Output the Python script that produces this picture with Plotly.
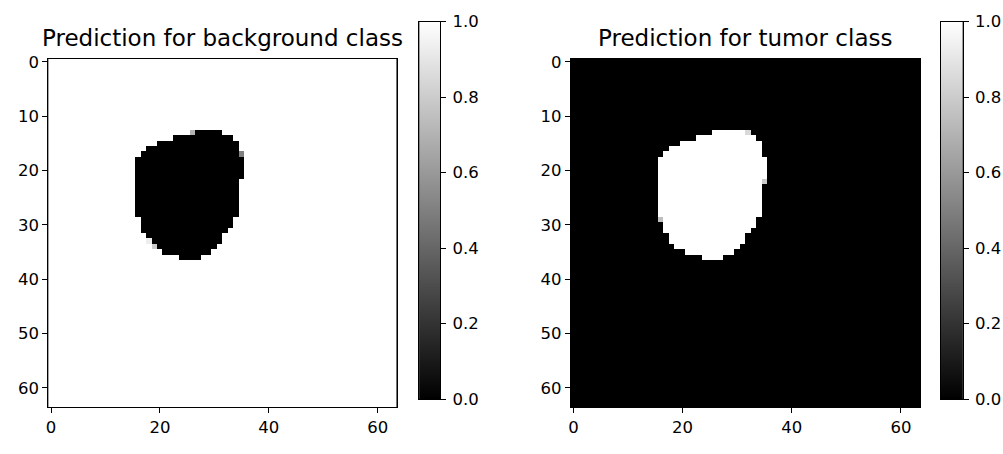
import numpy as np
import plotly.graph_objects as go

# ---- data ----
N = 64
first_row = 13
# column extent of the predicted tumour region, one entry per row starting at first_row
row_col_start = [26, 23, 20, 18, 17, 16, 16, 16, 16, 16, 16, 16, 16, 16, 16, 16,
                 17, 17, 17, 18, 18, 19, 21, 24]
row_col_end = [31, 33, 34, 34, 34, 35, 35, 35, 35, 34, 34, 34, 34, 34, 34, 34,
               33, 33, 32, 31, 31, 30, 29, 27]
# soft (grey) pixels: (row, col, value)
tumor_gray = [(13, 32, 0.85), (22, 35, 0.80), (29, 16, 0.75)]
background_gray = [(13, 26, 0.70), (17, 35, 0.50), (33, 18, 0.93), (34, 19, 0.80)]

titles = ["Prediction for background class", "Prediction for tumor class"]
axis_ticks = [0, 20, 40, 60]
yaxis_ticks = [0, 10, 20, 30, 40, 50, 60]
cbar_ticks = [0.0, 0.2, 0.4, 0.6, 0.8, 1.0]

# ---- build maps ----
mask = np.zeros((N, N))
for i, (s, e) in enumerate(zip(row_col_start, row_col_end)):
    mask[first_row + i, s:e + 1] = 1.0
tumor = mask.copy()
for r, c, v in tumor_gray:
    tumor[r, c] = v
background = 1.0 - mask
for r, c, v in background_gray:
    background[r, c] = v

W, H = 1003, 454
def px(x):
    return x / W
def py(y):
    return 1 - y / H

gray = [[0, "black"], [1, "white"]]
tickfont = dict(family="DejaVu Sans", size=16.5, color="black")

fig = go.Figure()
ax_x = [(48.3, 396.7), (570.7, 920.0)]
cb_x = [(419.3, 440.3), (940.7, 962.7)]
cb_levels = np.linspace(0, 1, 256)

layout = {}
line_style = dict(ticks="outside", ticklen=5, tickwidth=1, tickcolor="black",
                  showline=True, linecolor="black", linewidth=1, mirror=True,
                  showgrid=False, zeroline=False, tickfont=tickfont, automargin=False)

for k, z in enumerate([background, tumor]):
    xa, ya = 2 * k + 1, 2 * k + 2
    cxa, cya = 2 * k + 5, 2 * k + 6
    fig.add_trace(go.Heatmap(
        z=z, x=np.arange(N), y=np.arange(N), colorscale=gray, zmin=0, zmax=1,
        zsmooth=False, hoverinfo="skip", showscale=False,
        xaxis=f"x{xa}", yaxis=f"y{ya}"))
    layout[f"xaxis{xa}"] = dict(domain=[px(ax_x[k][0]), px(ax_x[k][1])], anchor=f"y{ya}",
                                range=[-0.5, 63.5], tickvals=axis_ticks, **line_style)
    layout[f"yaxis{ya}"] = dict(domain=[py(407), py(59)], anchor=f"x{xa}",
                                range=[63.5, -0.5], tickvals=yaxis_ticks, **line_style)
    # colour bar drawn as its own gradient image
    fig.add_trace(go.Heatmap(
        z=cb_levels.reshape(-1, 1), x=[0], y=cb_levels, colorscale=gray, zmin=0, zmax=1,
        zsmooth=False, hoverinfo="skip", showscale=False,
        xaxis=f"x{cxa}", yaxis=f"y{cya}"))
    layout[f"xaxis{cxa}"] = dict(domain=[px(cb_x[k][0]), px(cb_x[k][1])], anchor=f"y{cya}",
                                 range=[-0.5, 0.5], showticklabels=False, ticks="",
                                 showline=True, linecolor="black", linewidth=1, mirror=True,
                                 showgrid=False, zeroline=False, automargin=False)
    layout[f"yaxis{cya}"] = dict(domain=[py(399), py(21.7)], anchor=f"x{cxa}", side="right",
                                 range=[0, 1], tickvals=cbar_ticks, ticklabelstandoff=3,
                                 ticktext=[f"{t:.1f}" for t in cbar_ticks], **line_style)

fig.update_layout(
    width=W, height=H, autosize=False,
    margin=dict(l=0, r=0, t=0, b=0, autoexpand=False),
    paper_bgcolor="white", plot_bgcolor="black",
    showlegend=False, **layout,
)

for (x0, x1), t in zip(ax_x, titles):
    fig.add_annotation(text=t, x=px((x0 + x1) / 2), y=py(38), xref="paper", yref="paper",
                       xanchor="center", yanchor="middle", showarrow=False,
                       font=dict(family="DejaVu Sans", size=23, color="black"))

fig.write_html("out.html", config={"displayModeBar": False, "staticPlot": True},
               post_script="document.body.style.margin='0';document.body.style.overflow='hidden';")
